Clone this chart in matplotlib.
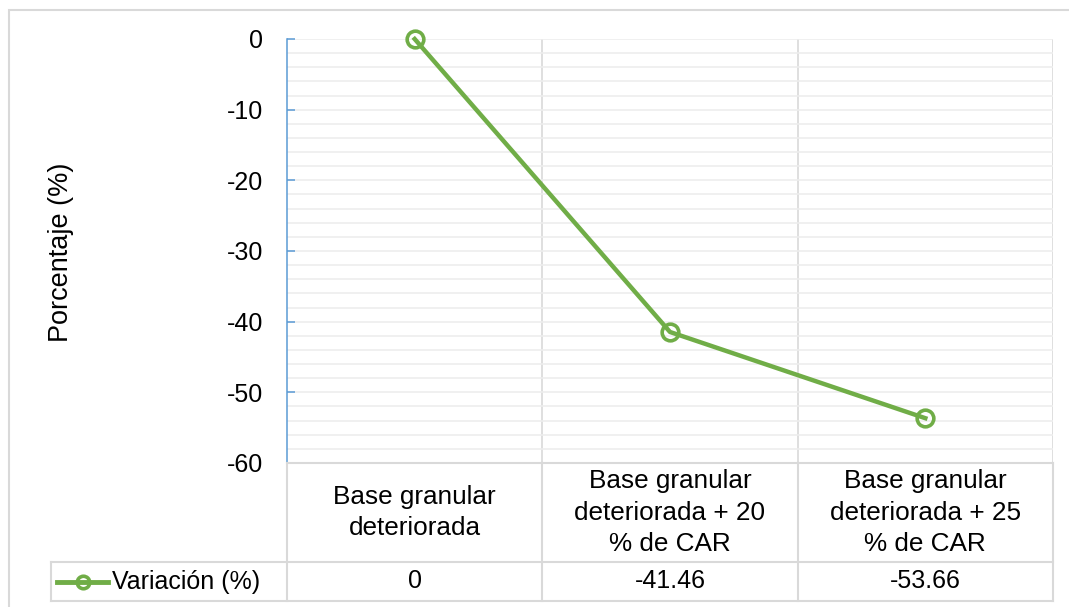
import numpy as np
import matplotlib
matplotlib.use('Agg')
import matplotlib.pyplot as plt
from matplotlib.patches import Rectangle

# --- datos ---
categorias = ["Base granular\ndeteriorada",
              "Base granular\ndeteriorada + 20\n% de CAR",
              "Base granular\ndeteriorada + 25\n% de CAR"]
variacion = [0, -41.46, -53.66]
serie = "Variación (%)"
y_ticks = list(range(-60, 1, 10))

# --- estilo ---
VERDE = '#70AD47'
AZUL = '#5B9BD5'
GRIS = '#D9D9D9'
GRIS_CLARO = '#EDEDED'
FS = 18

plt.rcParams['font.family'] = ['Liberation Sans', 'DejaVu Sans']
plt.rcParams['axes.unicode_minus'] = False

W, H = 1069, 607


def caja(x0, y0, x1, y1):
    # rectangulo en pixeles (origen arriba a la izquierda) -> fraccion de figura
    return [x0 / W, 1 - y1 / H, (x1 - x0) / W, (y1 - y0) / H]


fig = plt.figure(figsize=(W / 100, H / 100), dpi=100)

# marco exterior del grafico
fig.patches.append(Rectangle((9 / W, -0.1), 1.2, 1 - 10 / H + 0.1,
                             transform=fig.transFigure, fill=False,
                             ec=GRIS, lw=1.5))

# --- area de trazado ---
ax = fig.add_axes(caja(287, 39, 1053, 463))
n = len(categorias)
x = np.arange(n) + 0.5
ax.set_xlim(0, n)
ax.set_ylim(-60, 0)
ax.set_yticks(y_ticks)
ax.set_yticks(np.arange(-60, 1, 2), minor=True)
ax.grid(axis='y', which='both', color=GRIS_CLARO, lw=1.2, zorder=0)
for i in range(1, n + 1):
    ax.axvline(i, color=GRIS, lw=1.2, zorder=1)
ax.set_xticks([])
for s in ['top', 'right', 'bottom']:
    ax.spines[s].set_visible(False)
ax.spines['left'].set_color(AZUL)
ax.spines['left'].set_linewidth(1.1)
ax.tick_params(axis='y', which='major', direction='in', length=6, width=1.1,
               color=AZUL, pad=17, labelsize=FS)
ax.tick_params(axis='y', which='minor', length=0)

ax.plot(x, variacion, color=VERDE, lw=3.2, marker='o', ms=12, mfc='none',
        mew=2.6, zorder=5, clip_on=False)

fig.text(61 / W, 1 - 252 / H, "Porcentaje (%)", rotation=90, ha='center',
         va='center', fontsize=19.5)

# --- tabla de datos ---
tax = fig.add_axes(caja(51, 463, 1053, 601))
ancho_ley = 236 / (766 / n)
r = 39 / 138
tax.set_xlim(-ancho_ley, n)
tax.set_ylim(0, 1)
tax.axis('off')
kw = dict(color=GRIS, lw=1.5, clip_on=False, solid_capstyle='projecting')
tax.plot([0, n], [1, 1], **kw)
tax.plot([-ancho_ley, n], [r, r], **kw)
tax.plot([-ancho_ley, n], [0, 0], **kw)
tax.plot([-ancho_ley, -ancho_ley], [0, r], **kw)
for i in range(n + 1):
    tax.plot([i, i], [0, 1], **kw)

for i, (cat, val) in enumerate(zip(categorias, variacion)):
    tax.text(i + 0.5, (1 + r) / 2, cat, ha='center', va='center',
             fontsize=18.8, linespacing=1.42)
    tax.text(i + 0.5, r / 2, f"{val:g}", ha='center', va='center', fontsize=FS)

# clave de la serie en la tabla
x0 = -ancho_ley
tax.plot([x0 + 0.024, x0 + 0.223], [r / 2, r / 2], color=VERDE, lw=3.5,
         clip_on=False)
tax.plot([x0 + 0.1235], [r / 2], marker='o', ms=9, mfc='none', mew=2.6,
         color=VERDE, clip_on=False)
tax.text(x0 + 0.239, r / 2, serie, ha='left', va='center', fontsize=FS)

fig.savefig('out.png', dpi=100)
